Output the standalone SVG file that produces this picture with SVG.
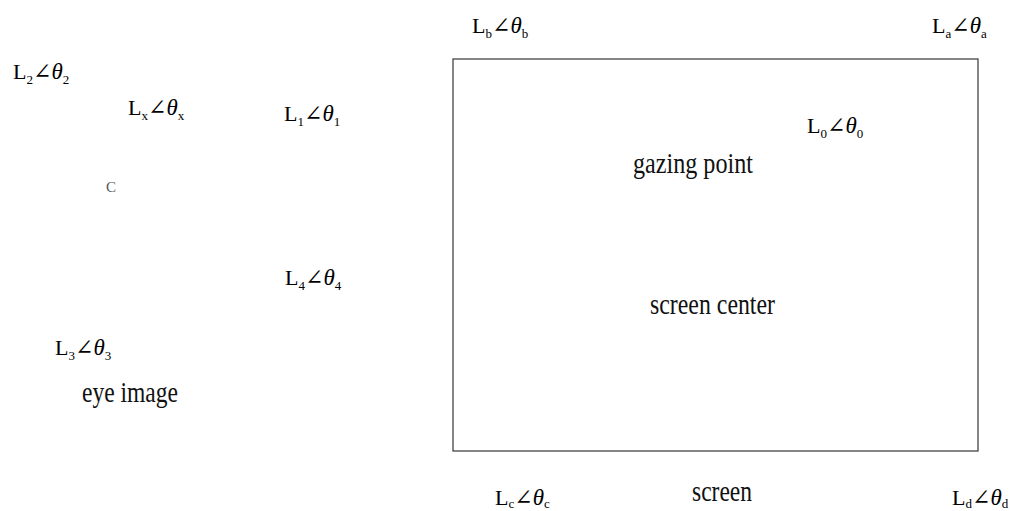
<svg xmlns="http://www.w3.org/2000/svg" width="1010" height="511" viewBox="0 0 1010 511">
  <style>
    .lbl { font-family: "Liberation Serif", "DejaVu Serif", serif; font-size: 22px; fill: #000; }
    .sub { font-size: 13px; }
    .th { font-style: italic; font-size: 23px; }
    .word { font-family: "Liberation Serif", "DejaVu Serif", serif; font-size: 29px; fill: #111; }
    .small { font-family: "Liberation Serif", "DejaVu Serif", serif; font-size: 15px; fill: #555; }
    .frame { fill: none; stroke: #444; stroke-width: 1.3; }
  </style>
  <rect width="1010" height="511" fill="#fff"/>

  <!-- screen outline -->
  <g id="screen-box">
    <rect class="frame" x="453" y="59" width="525" height="392"/>
  </g>

  <!-- eye image side -->
  <g id="l2">
    <text class="lbl" x="13" y="79">L<tspan class="sub" dy="5">2</tspan><tspan dy="-5">∠</tspan><tspan class="th">θ</tspan><tspan class="sub" dy="5">2</tspan></text>
  </g>
  <g id="lx">
    <text class="lbl" x="128" y="115">L<tspan class="sub" dy="5">x</tspan><tspan dy="-5">∠</tspan><tspan class="th">θ</tspan><tspan class="sub" dy="5">x</tspan></text>
  </g>
  <g id="l1">
    <text class="lbl" x="284" y="121">L<tspan class="sub" dy="5">1</tspan><tspan dy="-5">∠</tspan><tspan class="th">θ</tspan><tspan class="sub" dy="5">1</tspan></text>
  </g>
  <g id="c">
    <text class="small" x="106" y="192">C</text>
  </g>
  <g id="l4">
    <text class="lbl" x="285" y="285">L<tspan class="sub" dy="5">4</tspan><tspan dy="-5">∠</tspan><tspan class="th">θ</tspan><tspan class="sub" dy="5">4</tspan></text>
  </g>
  <g id="l3">
    <text class="lbl" x="55" y="355">L<tspan class="sub" dy="5">3</tspan><tspan dy="-5">∠</tspan><tspan class="th">θ</tspan><tspan class="sub" dy="5">3</tspan></text>
  </g>
  <g id="eye-image">
    <text class="word" x="82" y="402" textLength="96" lengthAdjust="spacingAndGlyphs">eye image</text>
  </g>

  <!-- screen side -->
  <g id="lb">
    <text class="lbl" x="472" y="33">L<tspan class="sub" dy="5">b</tspan><tspan dy="-5">∠</tspan><tspan class="th">θ</tspan><tspan class="sub" dy="5">b</tspan></text>
  </g>
  <g id="la">
    <text class="lbl" x="932" y="33">L<tspan class="sub" dy="5">a</tspan><tspan dy="-5">∠</tspan><tspan class="th">θ</tspan><tspan class="sub" dy="5">a</tspan></text>
  </g>
  <g id="l0">
    <text class="lbl" x="807" y="133">L<tspan class="sub" dy="5">0</tspan><tspan dy="-5">∠</tspan><tspan class="th">θ</tspan><tspan class="sub" dy="5">0</tspan></text>
  </g>
  <g id="gazing-point">
    <text class="word" x="633" y="173" textLength="120" lengthAdjust="spacingAndGlyphs">gazing point</text>
  </g>
  <g id="screen-center">
    <text class="word" x="650" y="314" textLength="125" lengthAdjust="spacingAndGlyphs">screen center</text>
  </g>
  <g id="lc">
    <text class="lbl" x="495" y="505">L<tspan class="sub" dy="3">c</tspan><tspan dy="-3">∠</tspan><tspan class="th">θ</tspan><tspan class="sub" dy="3">c</tspan></text>
  </g>
  <g id="screen-label">
    <text class="word" x="692" y="501" textLength="60" lengthAdjust="spacingAndGlyphs">screen</text>
  </g>
  <g id="ld">
    <text class="lbl" x="952" y="505">L<tspan class="sub" dy="3">d</tspan><tspan dy="-3">∠</tspan><tspan class="th">θ</tspan><tspan class="sub" dy="3">d</tspan></text>
  </g>
</svg>
